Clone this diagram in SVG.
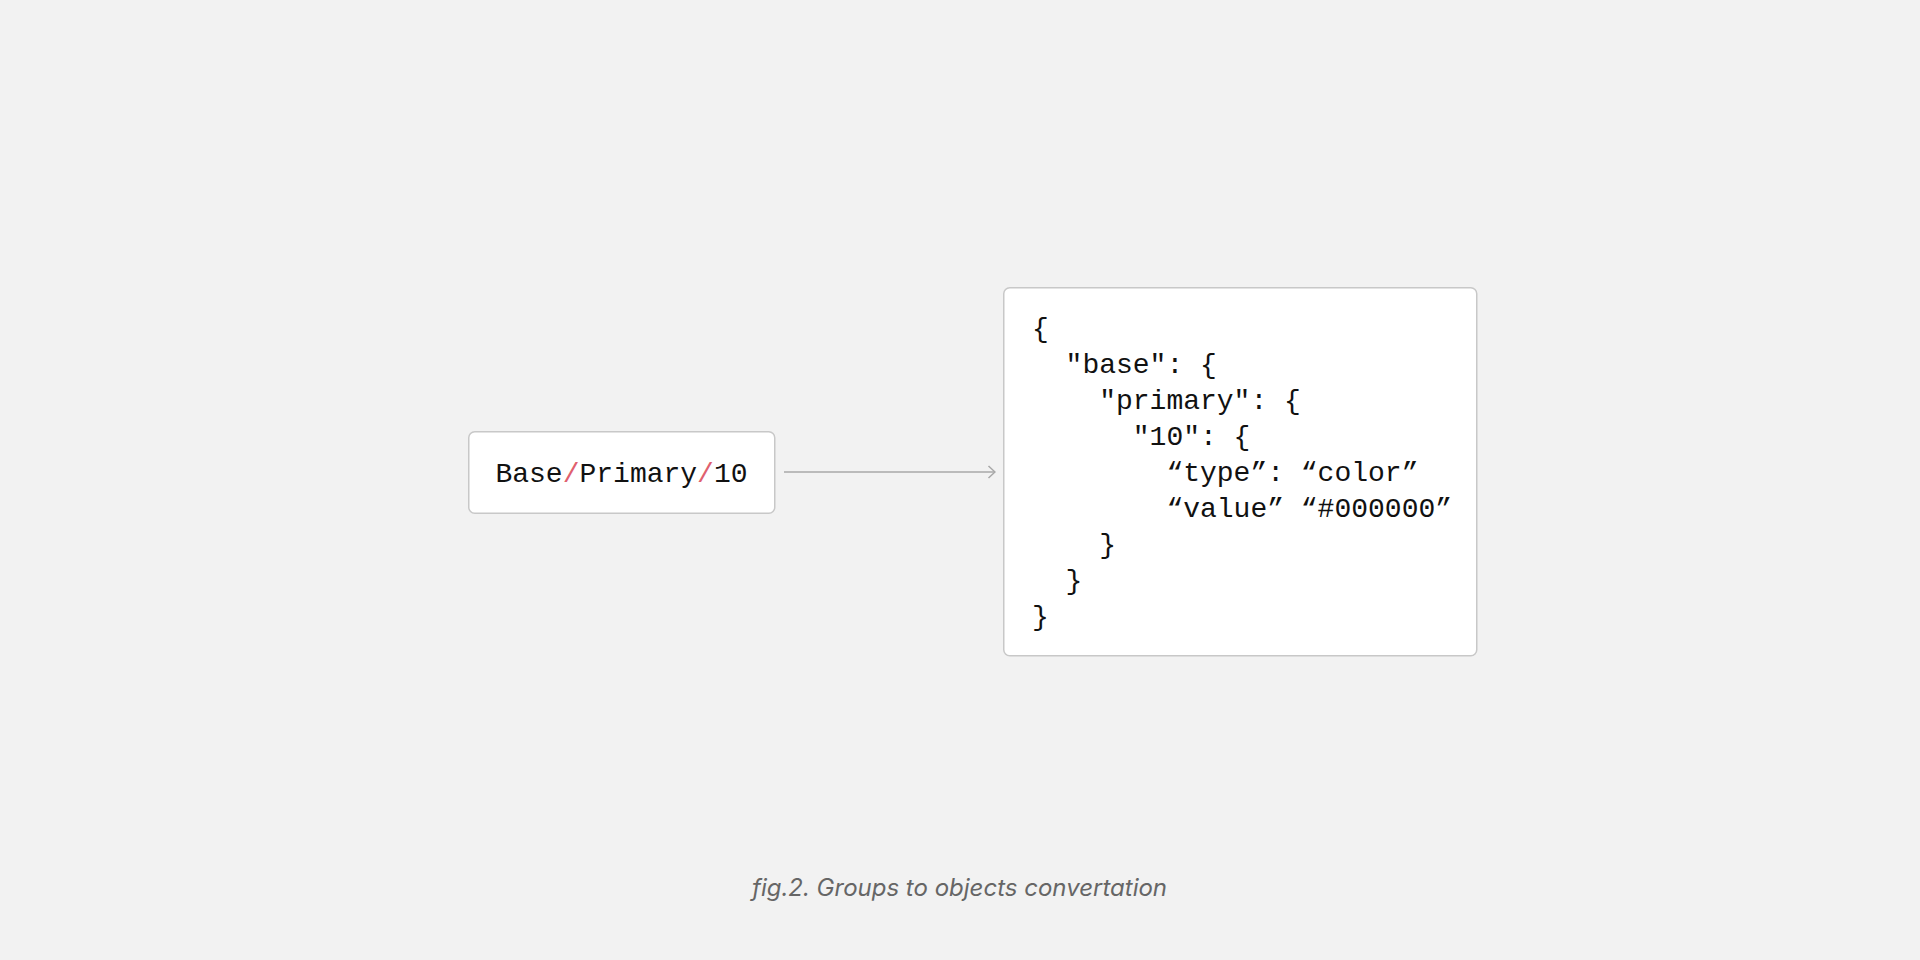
<svg xmlns="http://www.w3.org/2000/svg" width="1920" height="960" viewBox="0 0 1920 960">
  <defs>
    <style>
      .box { fill: #ffffff; stroke: #c8c8c8; stroke-width: 1.5; }
      .mono { font-family: "Liberation Mono", "DejaVu Sans Mono", monospace; font-size: 28px; fill: #111111; }
      .slash { fill: #e0606e; }
      .conn { stroke: #a8a8a8; stroke-width: 1.5; fill: none; }
      .caption { font-family: Inter, "Liberation Sans", sans-serif; font-style: italic; font-size: 24px; fill: #666666; }
    </style>
    <marker id="arrow" viewBox="0 0 14 14" refX="13" refY="7" markerWidth="14" markerHeight="14" markerUnits="userSpaceOnUse" orient="auto">
      <path d="M6.5 1 L13 7 L6.5 13" fill="none" stroke="#a8a8a8" stroke-width="1.5"/>
    </marker>
  </defs>
  <rect width="1920" height="960" fill="#f2f2f2"/>

  <g id="node-path">
    <rect class="box" x="468.75" y="431.75" width="306" height="81.5" rx="6"/>
    <text class="mono" x="621.5" y="482" text-anchor="middle">Base<tspan class="slash">/</tspan>Primary<tspan class="slash">/</tspan>10</text>
  </g>

  <g id="connectors">
    <line class="conn" x1="784" y1="472" x2="995" y2="472" marker-end="url(#arrow)"/>
  </g>

  <g id="node-json">
    <rect class="box" x="1003.75" y="287.75" width="473" height="368" rx="6"/>
    <text class="mono" x="1032" y="337">{</text>
    <text class="mono" x="1065.6" y="373">"base": {</text>
    <text class="mono" x="1099.2" y="409">"primary": {</text>
    <text class="mono" x="1132.8" y="445">"10": {</text>
    <text class="mono" x="1166.4" y="481">“type”: “color”</text>
    <text class="mono" x="1166.4" y="517">“value” “#000000”</text>
    <text class="mono" x="1099.2" y="553">}</text>
    <text class="mono" x="1065.6" y="589">}</text>
    <text class="mono" x="1032" y="625">}</text>
  </g>

  <g id="caption">
    <text class="caption" x="959.5" y="896" text-anchor="middle">fig.2. Groups to objects convertation</text>
  </g>
</svg>
